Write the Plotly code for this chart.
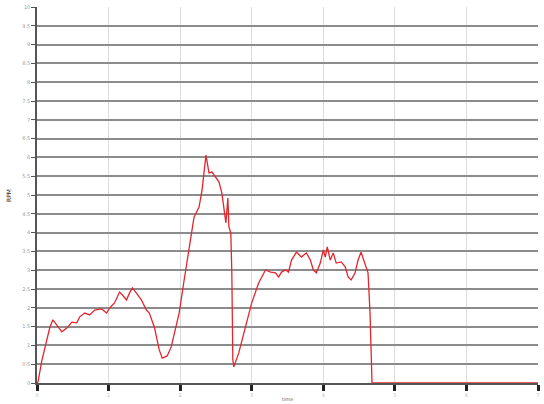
import plotly.graph_objects as go

# time values (x) and signal values (y)
time_vals = [0.0, 0.014, 0.069, 0.181, 0.222, 0.278, 0.347, 0.417, 0.486, 0.556, 0.597,
             0.667, 0.736, 0.806, 0.903, 0.972, 1.014, 1.083, 1.153, 1.194, 1.250,
             1.292, 1.333, 1.389, 1.458, 1.528, 1.569, 1.639, 1.708, 1.750, 1.819,
             1.875, 1.986, 2.056, 2.125, 2.194, 2.264, 2.306, 2.361, 2.403, 2.444,
             2.500, 2.542, 2.583, 2.625, 2.639, 2.667, 2.681, 2.708, 2.722, 2.736,
             2.750, 2.819, 2.917, 3.000, 3.097, 3.194, 3.264, 3.333, 3.375, 3.417,
             3.472, 3.514, 3.556, 3.625, 3.694, 3.764, 3.819, 3.861, 3.903, 3.958,
             4.000, 4.028, 4.056, 4.097, 4.139, 4.181, 4.250, 4.306, 4.347, 4.389,
             4.444, 4.486, 4.528, 4.583, 4.625, 4.653, 4.667, 4.681, 5.5, 7.0]
signal_vals = [0.0, 0.03, 0.61, 1.49, 1.68, 1.54, 1.36, 1.46, 1.62, 1.60, 1.76,
               1.86, 1.81, 1.94, 1.97, 1.86, 1.99, 2.13, 2.42, 2.34, 2.21,
               2.39, 2.53, 2.39, 2.21, 1.94, 1.86, 1.49, 0.88, 0.66, 0.72,
               0.96, 1.86, 2.74, 3.54, 4.41, 4.68, 5.13, 6.06, 5.59, 5.61,
               5.45, 5.35, 5.05, 4.41, 4.26, 4.92, 4.15, 3.99, 2.93, 0.61,
               0.43, 0.80, 1.49, 2.13, 2.66, 3.01, 2.95, 2.93, 2.82, 2.95,
               3.01, 2.95, 3.27, 3.48, 3.35, 3.46, 3.27, 3.01, 2.93, 3.19,
               3.54, 3.35, 3.62, 3.27, 3.46, 3.19, 3.22, 3.09, 2.82, 2.74,
               2.93, 3.27, 3.48, 3.19, 2.93, 1.86, 0.96, 0.0, 0.0, 0.0]

y_ticks = [i * 0.5 for i in range(21)]
y_labels = ["0", "0.5", "1", "1.5", "2", "2.5", "3", "3.5", "4", "4.5", "5",
            "5.5", "6", "6.5", "7", "7.5", "8", "8.5", "9", "9.5", "10"]
x_ticks = [0, 1, 2, 3, 4, 5, 6, 7]
x_labels = ["0", "1", "2", "3", "4", "5", "6", "7"]

fig = go.Figure()
fig.add_trace(go.Scatter(x=time_vals, y=signal_vals, mode="lines",
                         line=dict(color="#e3262d", width=1.3), showlegend=False))

fig.update_layout(
    width=544, height=404,
    margin=dict(l=37, r=6, t=7, b=21),
    paper_bgcolor="white", plot_bgcolor="white",
    font=dict(family="DejaVu Sans", size=5, color="#999"),
    annotations=[
        dict(text="RPM", textangle=-90, xref="paper", yref="paper",
             x=-0.058, y=0.5, xanchor="center", yanchor="middle", showarrow=False,
             font=dict(size=6, color="#333")),
        dict(text="time", xref="paper", yref="paper",
             x=0.5, y=-0.03, xanchor="center", yanchor="top", showarrow=False,
             font=dict(size=5, color="#666")),
    ],
)
fig.update_xaxes(
    range=[0, 7], tickvals=x_ticks, ticktext=x_labels, automargin=False,
    showgrid=True, gridcolor="#dcdcdc", gridwidth=1,
    showline=True, linecolor="#555", linewidth=1.5,
    ticks="outside", ticklen=6, tickwidth=3, tickcolor="#222",
    tickfont=dict(size=5, color="#bbb"),
    zeroline=False,
)
fig.update_yaxes(
    range=[0, 10], tickvals=y_ticks, ticktext=y_labels, automargin=False,
    showgrid=True, gridcolor="#8c8c8c", gridwidth=2,
    showline=True, linecolor="#555", linewidth=1.5,
    ticks="outside", ticklen=4, tickwidth=1, tickcolor="#555",
    tickfont=dict(size=5, color="#999"),
    zeroline=False,
)

fig.write_html("out.html", config={"displayModeBar": False},
               post_script="document.body.style.margin='0';")
